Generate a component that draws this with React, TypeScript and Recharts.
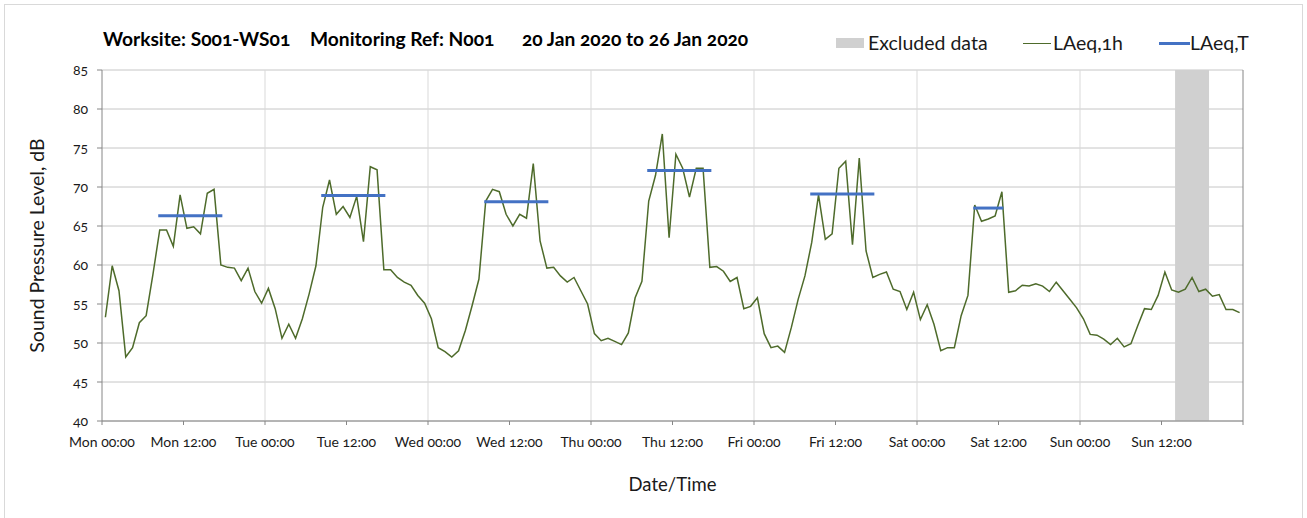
import React from 'react';
import {
  LineChart,
  Line,
  XAxis,
  YAxis,
  CartesianGrid,
  ReferenceArea,
  ReferenceLine,
  Legend,
} from 'recharts';

// ---- data ----
const tickHours = [0, 12, 24, 36, 48, 60, 72, 84, 96, 108, 120, 132, 144, 156, 168];
const tickLabels = [
  'Mon 00:00', 'Mon 12:00', 'Tue 00:00', 'Tue 12:00', 'Wed 00:00', 'Wed 12:00',
  'Thu 00:00', 'Thu 12:00', 'Fri 00:00', 'Fri 12:00', 'Sat 00:00', 'Sat 12:00',
  'Sun 00:00', 'Sun 12:00', '',
];
const dayBoundaries = [24, 48, 72, 96, 120, 144];
const yTicks = [40, 45, 50, 55, 60, 65, 70, 75, 80, 85];

// hourly LAeq,1h values, Mon 00:00 .. Sun 23:00
const laeq1h = [
  // Mon
  53.3, 59.9, 56.7, 48.2, 49.4, 52.6, 53.5, 58.8, 64.5, 64.5, 62.4, 69.0,
  64.7, 64.9, 64.0, 69.2, 69.7, 60.0, 59.7, 59.6, 58.0, 59.6, 56.6, 55.1,
  // Tue
  57.0, 54.4, 50.6, 52.4, 50.6, 53.1, 56.3, 59.9, 67.4, 70.9, 66.5, 67.5,
  66.1, 68.8, 63.0, 72.6, 72.2, 59.4, 59.4, 58.4, 57.8, 57.4, 56.1, 55.1,
  // Wed
  53.1, 49.4, 48.9, 48.2, 49.0, 51.6, 54.8, 58.2, 68.2, 69.7, 69.4, 66.5,
  65.0, 66.5, 66.0, 73.0, 63.1, 59.6, 59.7, 58.6, 57.8, 58.4, 56.7, 55.0,
  // Thu
  51.2, 50.3, 50.6, 50.2, 49.8, 51.3, 55.8, 57.9, 68.2, 71.5, 76.8, 63.5,
  74.2, 72.4, 68.7, 72.4, 72.4, 59.7, 59.8, 59.2, 57.9, 58.4, 54.4, 54.7,
  // Fri
  55.8, 51.2, 49.4, 49.6, 48.8, 52.0, 55.6, 58.6, 62.9, 69.0, 63.3, 64.0,
  72.4, 73.3, 62.6, 73.7, 61.8, 58.4, 58.8, 59.1, 56.9, 56.6, 54.3, 56.5,
  // Sat
  53.0, 54.9, 52.4, 49.0, 49.4, 49.4, 53.5, 56.1, 67.7, 65.6, 65.9, 66.3,
  69.4, 56.5, 56.7, 57.4, 57.3, 57.6, 57.3, 56.6, 57.8, 56.7, 55.6, 54.5,
  // Sun
  53.1, 51.1, 51.0, 50.5, 49.8, 50.6, 49.5, 49.9, 52.2, 54.4, 54.3, 56.1,
  59.1, 56.8, 56.5, 56.9, 58.4, 56.6, 56.9, 56.0, 56.2, 54.3, 54.3, 53.9,
];

// LAeq,T assessment periods (hours from Mon 00:00)
const periodStart = [8.5, 32.5, 56.5, 80.5, 104.5, 128.5];
const periodEnd = [17.5, 41.5, 65.5, 89.5, 113.5, 132.5];
const laeqT = [66.3, 68.9, 68.1, 72.1, 69.1, 67.3];

// excluded data window (hours from Mon 00:00)
const excludedStart = 158;
const excludedEnd = 163;

// ---- derived tables ----
const rows = laeq1h.map((v, i) => ({ t: i + 0.5, laeq1h: v }));
const periodRows = laeqT.map((v, k) => [
  { t: periodStart[k], level: v },
  { t: periodEnd[k], level: v },
]);

const FONT = "Lato, 'Open Sans', 'DejaVu Sans', sans-serif";
const GREEN = '#4e6b2b';
const BLUE = '#4472c4';
const BAND = '#d0d0d0';
const AXIS = '#868686';
const TEXT = '#1a1a1a';

const legendText: React.CSSProperties = {
  position: 'absolute',
  top: 30.5,
  fontSize: 19.5,
  color: TEXT,
  whiteSpace: 'nowrap',
};

const renderLegend = () => (
  <div style={{ position: 'relative', width: 1307, height: 60, fontFamily: FONT }}>
    <div style={{ position: 'absolute', left: 836, top: 38, width: 28, height: 10, background: BAND }} />
    <div style={{ ...legendText, left: 868 }}>Excluded data</div>
    <div style={{ position: 'absolute', left: 1023, top: 42.5, width: 28, height: 1.5, background: GREEN }} />
    <div style={{ ...legendText, left: 1053 }}>LAeq,1h</div>
    <div style={{ position: 'absolute', left: 1159, top: 41.5, width: 31, height: 3, background: BLUE }} />
    <div style={{ ...legendText, left: 1190 }}>LAeq,T</div>
  </div>
);

const titleText: React.CSSProperties = {
  position: 'absolute',
  top: 26.5,
  fontSize: 19.2,
  fontWeight: 700,
  color: '#000',
  whiteSpace: 'nowrap',
};

export default function App() {
  return (
    <div
      style={{
        position: 'absolute',
        left: 0,
        top: 0,
        width: 1307,
        height: 518,
        background: '#ffffff',
        overflow: 'hidden',
        fontFamily: FONT,
        fontVariantNumeric: 'oldstyle-nums',
      }}
    >
      <div
        style={{
          position: 'absolute',
          left: 4,
          top: 4,
          width: 1299,
          height: 530,
          border: '1px solid #d9d9d9',
          boxSizing: 'border-box',
        }}
      />
      <div style={{ ...titleText, left: 103 }}>Worksite: S001-WS01</div>
      <div style={{ ...titleText, left: 310 }}>Monitoring Ref: N001</div>
      <div style={{ ...titleText, left: 522 }}>20 Jan 2020 to 26 Jan 2020</div>
      <div style={{ position: 'absolute', left: 0, top: 0 }}>
        <LineChart
          width={1307}
          height={518}
          data={rows}
          margin={{ top: 70, right: 64, bottom: 27, left: 22 }}
        >
          <CartesianGrid horizontal vertical={false} stroke="#c6c6c6" strokeWidth={1} />
          {dayBoundaries.map((d) => (
            <ReferenceLine key={d} x={d} stroke="#d9d9d9" strokeWidth={1} ifOverflow="visible" />
          ))}
          <ReferenceLine x={168} stroke={AXIS} strokeWidth={1} />
          <ReferenceArea
            x1={excludedStart}
            x2={excludedEnd}
            y1={40}
            y2={85}
            fill={BAND}
            fillOpacity={1}
            stroke="none"
          />
          <XAxis
            dataKey="t"
            type="number"
            domain={[0, 168]}
            ticks={tickHours}
            interval={0}
            allowDataOverflow
            height={70}
            tickSize={4}
            tickMargin={12}
            axisLine={{ stroke: AXIS }}
            tickLine={{ stroke: AXIS }}
            tick={{ fontSize: 14, fill: TEXT }}
            tickFormatter={(v: number) => tickLabels[tickHours.indexOf(v)] ?? ''}
            label={{ value: 'Date/Time', position: 'insideBottom', offset: 0, fontSize: 18.5, fill: TEXT }}
          />
          <YAxis
            type="number"
            domain={[40, 85]}
            ticks={yTicks}
            interval={0}
            width={80}
            tickSize={5}
            tickMargin={9}
            axisLine={{ stroke: AXIS }}
            tickLine={{ stroke: AXIS }}
            tick={{ fontSize: 14, fill: TEXT }}
            label={{
              value: 'Sound Pressure Level, dB',
              angle: -90,
              position: 'insideLeft',
              offset: 15,
              fontSize: 19.5,
              fill: TEXT,
              style: { textAnchor: 'middle' },
            }}
          />
          <Legend
            content={renderLegend}
            layout="horizontal"
            verticalAlign="middle"
            align="center"
            wrapperStyle={{ left: 0, top: 0, width: 1307, height: 60 }}
          />
          <Line
            type="linear"
            dataKey="laeq1h"
            name="LAeq,1h"
            stroke={GREEN}
            strokeWidth={1.5}
            dot={false}
            activeDot={false}
            isAnimationActive={false}
          />
          {periodRows.map((d, k) => (
            <Line
              key={k}
              data={d}
              type="linear"
              dataKey="level"
              name="LAeq,T"
              stroke={BLUE}
              strokeWidth={3}
              strokeLinecap="square"
              dot={false}
              activeDot={false}
              isAnimationActive={false}
              legendType="none"
            />
          ))}
        </LineChart>
      </div>
    </div>
  );
}
